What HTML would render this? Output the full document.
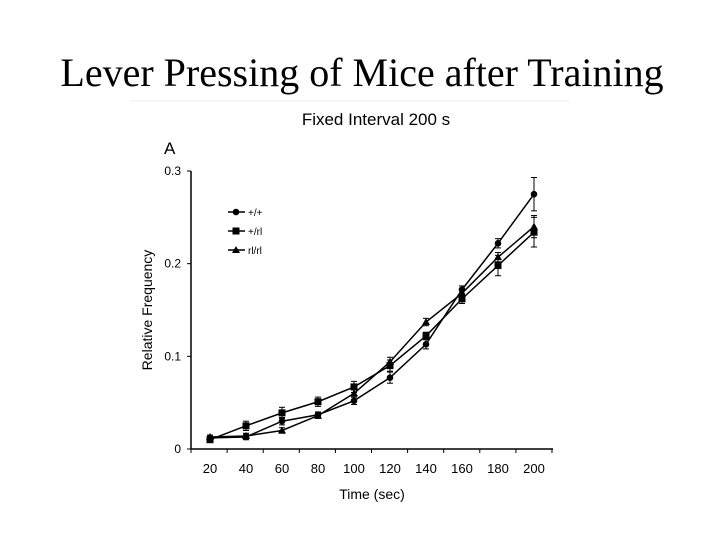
<!DOCTYPE html>
<html><head><meta charset="utf-8"><style>
body{margin:0;background:#fff;width:720px;height:540px;overflow:hidden}
svg text{font-family:"Liberation Sans",sans-serif}
</style></head><body>
<svg width="720" height="540">
<text x="362" y="86" text-anchor="middle" style="font-family:'Liberation Serif',serif;font-size:40px">Lever Pressing of Mice after Training</text>
<line x1="130" y1="101" x2="570" y2="101" stroke="#eee"/>
<text x="376" y="125" text-anchor="middle" font-size="17">Fixed Interval 200 s</text>
<text x="164" y="154" font-size="17">A</text>
<g id="axes"></g>
<g id="marks"></g>
<text transform="translate(152,310) rotate(-90)" text-anchor="middle" font-size="14">Relative Frequency</text>
<text x="372" y="499" text-anchor="middle" font-size="14">Time  (sec)</text>
<g id="legend"></g>
</svg>
<script>
const categories=[20,40,60,80,100,120,140,160,180,200];
const seriesNames=["+/+","+/rl","rl/rl"];
const wt=[0.012,0.013,0.030,0.037,0.052,0.077,0.113,0.172,0.222,0.275];
const het=[0.010,0.025,0.039,0.051,0.067,0.090,0.122,0.162,0.198,0.234];
const mut=[0.013,0.014,0.020,0.036,0.060,0.094,0.137,0.168,0.207,0.240];
const wtErr=[0.003,0.003,0.004,0.003,0.004,0.006,0.005,0.004,0.005,0.018];
const hetErr=[0.003,0.005,0.006,0.005,0.006,0.006,0.004,0.005,0.011,0.016];
const mutErr=[0.002,0.003,0.003,0.003,0.004,0.005,0.004,0.004,0.005,0.012];
const yTicks=[0,0.1,0.2,0.3];
const yTickLabels=["0","0.1","0.2","0.3"];
const NS="http://www.w3.org/2000/svg";
const X0=191,X1=553,Y0=449,YT=171;
const xs=v=>210+(v-20)*(534-210)/180;
const ys=v=>Y0-v*(Y0-YT)/0.3;
function mk(tag,attrs,parent,name){const e=document.createElementNS(NS,tag);for(const k in attrs)e.setAttribute(k,attrs[k]);parent.appendChild(e);


return e;}
const ax=document.getElementById('axes');
mk('line',{x1:X0,y1:YT,x2:X0,y2:Y0,stroke:'#000','stroke-width':1.5},ax,'y-axis');
mk('line',{x1:X0,y1:Y0,x2:X1,y2:Y0,stroke:'#000','stroke-width':1.5},ax,'x-axis');
yTicks.forEach((t,i)=>{mk('line',{x1:X0-4,y1:ys(t),x2:X0,y2:ys(t),stroke:'#000'},ax,'y-tick');
const tx=mk('text',{x:X0-10,y:ys(t)+4,'text-anchor':'end','font-size':12},ax,'y-tick-label');tx.textContent=yTickLabels[i];});
for(let i=0;i<=10;i++){const x=X0+i*36.1;mk('line',{x1:x,y1:Y0,x2:x,y2:Y0+4,stroke:'#000'},ax,'x-tick');}
categories.forEach(c=>{const tx=mk('text',{x:xs(c),y:Y0+24,'text-anchor':'middle','font-size':13},ax,'x-tick-label');tx.textContent=c;});
const m=document.getElementById('marks');
function marker(type,x,y,p,name){
 if(type==='circle')return mk('circle',{cx:x,cy:y,r:3.3,fill:'#000'},p,name);
 if(type==='square')return mk('rect',{x:x-3.5,y:y-3.5,width:7,height:7,fill:'#000'},p,name);
 return mk('polygon',{points:`${x},${y-4} ${x-4},${y+3} ${x+4},${y+3}`,fill:'#000'},p,name);}
const series=[[wt,wtErr,'circle','wt'],[het,hetErr,'square','het'],[mut,mutErr,'triangle','mut']];
series.forEach(([vals,err,type,key])=>{
 mk('polyline',{points:vals.map((v,i)=>xs(categories[i])+','+ys(v)).join(' '),fill:'none',stroke:'#000','stroke-width':1.5},m,'line-'+key);
 vals.forEach((v,i)=>{const x=xs(categories[i]);
  mk('line',{x1:x,y1:ys(v-err[i]),x2:x,y2:ys(v+err[i]),stroke:'#000'},m,'error-bar-'+key);
  mk('line',{x1:x-3,y1:ys(v+err[i]),x2:x+3,y2:ys(v+err[i]),stroke:'#000'},m,'error-cap-'+key);
  mk('line',{x1:x-3,y1:ys(v-err[i]),x2:x+3,y2:ys(v-err[i]),stroke:'#000'},m,'error-cap-'+key);
  marker(type,x,ys(v),m,'point-'+key);});
});
const lg=document.getElementById('legend');
['circle','square','triangle'].forEach((t,i)=>{const y=212+i*19;
 mk('line',{x1:228,y1:y,x2:245,y2:y,stroke:'#000','stroke-width':1.5},lg,'legend-line');
 marker(t,236,y,lg,'legend-marker');
 const tx=mk('text',{x:248,y:y+4,'font-size':10},lg,'legend-entry');tx.textContent=seriesNames[i];});
</script>
</body></html>
